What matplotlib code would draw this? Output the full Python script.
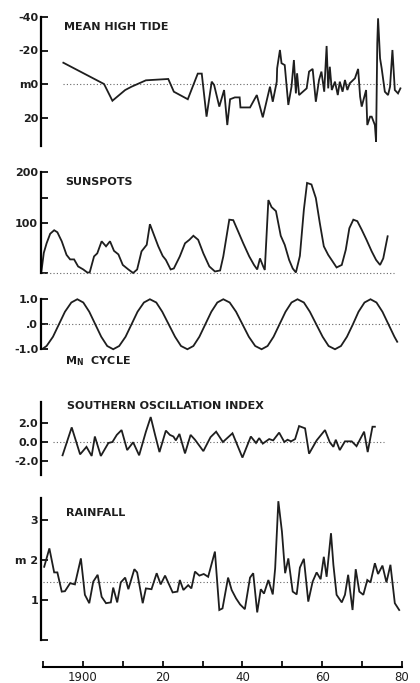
import numpy as np
import matplotlib.pyplot as plt

# ---- data ----
tide_year = [1895.1, 1905.3, 1907.4, 1910.6, 1912.2, 1915.8, 1921.4, 1922.8, 1926.3, 1928.8,
             1929.8, 1931.0, 1932.3, 1932.9, 1934.2, 1935.4, 1936.2, 1936.9, 1938.1, 1939.3,
             1939.5, 1940.2, 1941.9, 1943.6, 1945.1, 1946.9, 1947.6, 1948.6, 1948.7, 1949.4,
             1949.8, 1950.6, 1951.5, 1952.3, 1952.9, 1953.4, 1953.7, 1954.2, 1956.1, 1956.7,
             1957.6, 1958.4, 1959.2, 1959.8, 1960.5, 1961.1, 1961.5, 1961.9, 1962.4, 1963.2,
             1963.9, 1964.4, 1965.1, 1965.7, 1966.3, 1966.9, 1968.2, 1969.0, 1969.5, 1969.9,
             1971.0, 1971.3, 1972.0, 1972.4, 1973.2, 1973.5, 1973.8, 1974.0, 1974.5, 1974.9,
             1975.7, 1976.5, 1977.0, 1977.6, 1978.2, 1979.0, 1979.6]
tide_val = [-12.7, 0, 10, 3.6, 1.6, -2.2, -3, 4.6, 9.1, -6.2,
            -6.2, 19.5, -1.4, 0.6, 13.5, 3.6, 24.5, 9.1, 8, 8,
            14, 14, 14, 6.6, 19.9, 1.6, 10.6, -1.4, -9.4, -20.3,
            -12.4, -11.3, 12.5, 1.6, -14.3, 5.6, -6.4, 6.6, 2.6, -7.4,
            -9, 10.6, -2.4, -7.4, 4.6, -22.7, 2.6, -10.3, 3.6, -1.4,
            6.6, -1.4, 4.6, -2.4, 3.6, -0.4, -3.4, -9, 7.6, 13.5,
            3.6, 24.5, 19.5, 19.5, 24.5, 34.4, -24.3, -39.2, -15.3, -9.4,
            4.6, 6.6, 1.6, -20.3, 3.6, 5.6, 2.6]

sun_year = [1889.6, 1890.2, 1890.9, 1891.8, 1892.8, 1893.6, 1894.7, 1895.9, 1896.8, 1897.8, 1898.8,
            1900.1, 1901.1, 1901.7, 1902.8, 1903.6, 1904.7, 1905.8, 1906.8, 1907.8, 1908.9,
            1910.0, 1911.4, 1912.6, 1913.6, 1914.7, 1916.0, 1916.8, 1917.8, 1918.9, 1920.0,
            1920.8, 1922.0, 1922.8, 1924.3, 1925.6, 1926.7, 1927.7, 1928.9, 1930.2, 1931.7,
            1933.1, 1934.4, 1935.2, 1936.7, 1937.7, 1938.9, 1940.2, 1941.7, 1942.9, 1943.7,
            1944.4, 1945.2, 1945.6, 1946.5, 1947.3, 1948.4, 1949.6, 1950.6, 1951.7, 1952.6,
            1953.4, 1954.4, 1955.4, 1956.2, 1957.3, 1958.4, 1959.4, 1960.4, 1961.5, 1962.6,
            1963.6, 1964.9, 1965.9, 1966.8, 1967.8, 1968.8, 1969.9, 1971.1, 1972.4, 1973.5,
            1974.5, 1975.3, 1976.4]
sun_val = [3, 40, 59, 78, 85, 81, 63, 36, 27, 27, 13,
           7, 1, 1, 33, 39, 63, 53, 63, 44, 37,
           16, 7, 0, 7, 43, 56, 97, 76, 53, 34,
           26, 7, 9, 33, 59, 66, 74, 66, 39, 13,
           3, 5, 33, 106, 105, 83, 59, 33, 16, 7,
           29, 13, 6, 145, 131, 123, 74, 56, 26, 9,
           1, 34, 126, 179, 176, 149, 99, 53, 36, 23,
           11, 16, 46, 89, 106, 103, 86, 66, 43, 26,
           16, 29, 73]

mn_year = [1889.9, 1890.9, 1892.5, 1894.0, 1895.5, 1897.1, 1898.6, 1900.1, 1901.6, 1903.1,
           1904.6, 1906.1, 1907.6, 1909.1, 1910.7, 1912.2, 1913.7, 1915.3, 1916.8, 1918.4,
           1919.9, 1921.5, 1923.1, 1924.6, 1926.2, 1927.7, 1929.2, 1930.7, 1932.2, 1933.7,
           1935.2, 1936.8, 1938.4, 1940.0, 1941.6, 1943.2, 1944.8, 1946.3, 1947.8, 1949.3,
           1950.8, 1952.3, 1953.8, 1955.4, 1956.9, 1958.5, 1960.1, 1961.6, 1963.2, 1964.7,
           1966.2, 1967.7, 1969.1, 1970.6, 1972.1, 1973.6, 1975.1, 1976.6, 1978.1, 1978.8]
mn_val = [-0.98, -0.87, -0.5, 0, 0.5, 0.87, 1.0, 0.87, 0.5, 0,
          -0.5, -0.87, -1.0, -0.87, -0.5, 0, 0.5, 0.87, 1.0, 0.87,
          0.5, 0, -0.5, -0.87, -1.0, -0.87, -0.5, 0, 0.5, 0.87,
          1.0, 0.87, 0.5, 0, -0.5, -0.87, -1.0, -0.87, -0.5, 0,
          0.5, 0.87, 1.0, 0.87, 0.5, 0, -0.5, -0.87, -1.0, -0.87,
          -0.5, 0, 0.5, 0.87, 1.0, 0.87, 0.5, 0, -0.5, -0.7]

soi_year = [1894.9, 1897.2, 1899.3, 1900.9, 1902.2, 1903.0, 1904.5, 1906.4, 1907.4, 1908.5,
            1909.7, 1911.1, 1912.6, 1914.1, 1915.8, 1917.0, 1918.1, 1919.2, 1920.8, 1921.8,
            1922.7, 1923.3, 1924.2, 1925.6, 1927.0, 1928.1, 1930.2, 1932.0, 1933.4, 1935.1,
            1937.5, 1940.0, 1942.1, 1943.4, 1944.2, 1945.1, 1946.7, 1947.7, 1949.2, 1950.5,
            1951.3, 1952.2, 1953.2, 1954.2, 1955.7, 1956.7, 1958.6, 1960.7, 1961.9, 1962.8,
            1963.4, 1964.4, 1965.7, 1967.4, 1968.6, 1970.5, 1971.4, 1972.6, 1973.2]
soi_val = [-1.4, 1.54, -1.3, -0.51, -1.47, 0.58, -1.47, -0.1, 0, 0.75,
           1.26, -0.85, -0.03, -1.4, 1.09, 2.63, 0.75, -1.06, 1.2, 0.75,
           0.58, 0.17, 0.85, -1.2, 0.75, 0.24, -0.96, 0.51, 1.09, 0,
           0.92, -1.64, 0.58, -0.1, 0.41, -0.17, 0.31, 0.17, 0.99, 0,
           0.24, 0.07, 0.31, 1.68, 1.44, -1.23, 0.17, 1.26, -0.03, -0.51,
           0.24, -0.85, 0.07, 0.07, -0.44, 1.09, -1.06, 1.61, 1.61]

rain_year = [1890.3, 1891.6, 1892.8, 1893.6, 1894.7, 1895.5, 1896.8, 1898.0, 1899.5, 1900.5,
             1901.6, 1902.6, 1903.7, 1904.7, 1905.8, 1907.0, 1907.6, 1908.6, 1909.5, 1910.6,
             1911.4, 1912.9, 1913.6, 1915.0, 1915.8, 1917.2, 1918.5, 1919.5, 1920.6, 1922.5,
             1923.7, 1924.3, 1925.2, 1926.4, 1927.2, 1928.1, 1929.2, 1930.3, 1931.4, 1933.1,
             1934.2, 1935.0, 1936.4, 1937.3, 1938.4, 1939.4, 1940.6, 1941.9, 1942.7, 1943.7,
             1944.6, 1945.4, 1946.5, 1947.6, 1948.2, 1949.0, 1949.9, 1950.7, 1951.5, 1952.6,
             1953.6, 1954.4, 1955.4, 1956.5, 1957.6, 1958.6, 1959.6, 1960.4, 1961.1, 1962.2,
             1962.8, 1963.6, 1964.9, 1965.7, 1966.5, 1967.6, 1968.4, 1969.3, 1970.3, 1971.3,
             1972.1, 1973.2, 1974.0, 1975.1, 1976.1, 1977.1, 1978.2, 1979.3]
rain_val = [1.83, 2.29, 1.69, 1.69, 1.21, 1.22, 1.42, 1.39, 2.04, 1.13,
            0.92, 1.46, 1.63, 1.08, 0.92, 0.94, 1.31, 0.94, 1.44, 1.56,
            1.27, 1.77, 1.69, 0.92, 1.29, 1.27, 1.67, 1.39, 1.61, 1.19,
            1.21, 1.50, 1.25, 1.37, 1.29, 1.71, 1.61, 1.65, 1.58, 2.21,
            0.75, 0.79, 1.56, 1.25, 1.04, 0.89, 0.77, 1.56, 1.67, 0.69,
            1.27, 1.16, 1.50, 1.14, 1.79, 3.47, 2.71, 1.67, 2.04, 1.21,
            1.14, 1.81, 2.03, 0.96, 1.46, 1.69, 1.52, 2.08, 1.58, 2.67,
            1.88, 1.13, 0.94, 1.13, 1.63, 0.75, 1.77, 1.21, 1.13, 1.50,
            1.44, 1.92, 1.65, 1.86, 1.44, 1.88, 0.92, 0.75]
rain_mean = 1.45

decades = [1890, 1900, 1910, 1920, 1930, 1940, 1950, 1960, 1970, 1980]
decade_labels = ['', '1900', '', '20', '', '40', '', '60', '', '80']

W, H = 420, 683
fig = plt.figure(figsize=(W / 100, H / 100), dpi=100)
LINE = dict(color='#1e1e1e', lw=1.3, clip_on=False, solid_joinstyle='miter')
DOT = dict(color='#666666', lw=0.8, linestyle=(0, (1, 2)))


def panel(top, bottom):
    # axes placed in pixel coords, x from 1890 (px 43) to 1980 (px 402)
    ax = fig.add_axes([43 / W, 1 - bottom / H, (402 - 43) / W, (bottom - top) / H])
    ax.set_xlim(1890, 1980)
    ax.patch.set_alpha(0)
    for s in ['top', 'right', 'bottom']:
        ax.spines[s].set_visible(False)
    ax.spines['left'].set_position(('outward', 1.5))
    ax.spines['left'].set_linewidth(1.6)
    ax.set_xticks([])
    ax.tick_params(axis='y', direction='in', length=5, width=1.4, pad=2,
                   labelsize=8, colors='#1e1e1e')
    return ax


def title(x, y, s):
    fig.text(x / W, 1 - y / H, s, fontsize=8, fontweight='bold', va='center',
             ha='left', color='#1e1e1e')


# mean high tide
ax1 = panel(17, 151)
ax1.set_ylim(40, -40)
ax1.spines['left'].set_bounds(-40, 37)
ax1.set_yticks([-40, -20, 0, 20], ['-40', '-20', 'm0', '20'], fontweight='bold')
ax1.hlines(0, 1895, 1979, **DOT)
ax1.plot(tide_year, tide_val, **LINE)
title(64, 27.5, 'MEAN HIGH TIDE')

# sunspots
ax2 = panel(165, 276)
ax2.set_ylim(-6, 214.7)
ax2.spines['left'].set_bounds(0, 200)
ax2.set_yticks([0, 100, 150, 200], ['', '100', '', '200'], fontweight='bold')
ax2.hlines(0, 1890, 1978, **DOT)
ax2.plot(sun_year, sun_val, **LINE)
title(65, 182, 'SUNSPOTS')

# MN cycle
ax3 = panel(296, 352)
ax3.set_ylim(-1.11, 1.13)
ax3.spines['left'].set_bounds(-1, 1)
ax3.set_yticks([-1, 0, 1], ['-1.0', '.0', '1.0'], fontweight='bold')
ax3.hlines(0, 1890.5, 1979.5, **DOT)
ax3.plot(mn_year, mn_val, **LINE)
title(65, 361, r'M$_\mathregular{N}$  CYCLE')

# southern oscillation index
ax4 = panel(401, 476)
ax4.set_ylim(-3.58, 4.32)
ax4.spines['left'].set_bounds(-3.47, 4.24)
ax4.set_yticks([-2, 0, 2], ['-2.0', '0.0', '2.0'], fontweight='bold')
ax4.hlines(0, 1892.5, 1975.5, **DOT)
ax4.plot(soi_year, soi_val, **LINE)
title(67, 406, 'SOUTHERN OSCILLATION INDEX')

# rainfall
ax5 = panel(497, 641)
ax5.set_ylim(-0.025, 3.575)
ax5.spines['left'].set_bounds(0, 3.55)
ax5.set_yticks([0, 1, 2, 3], ['', '1', 'm 2', '3'], fontweight='bold')
ax5.hlines(rain_mean, 1890, 1979, **DOT)
ax5.plot(rain_year, rain_val, **LINE)
title(66, 513, 'RAINFALL')

# shared time axis at the bottom
axb = fig.add_axes([43 / W, 1 - 667 / H, (402 - 43) / W, 6 / H])
axb.set_xlim(1890, 1980)
axb.patch.set_alpha(0)
for s in ['top', 'right', 'left']:
    axb.spines[s].set_visible(False)
axb.spines['bottom'].set_linewidth(1.5)
axb.set_yticks([])
axb.set_xticks(decades, decade_labels)
axb.tick_params(axis='x', direction='in', length=4, width=1.4, pad=3,
                labelsize=8.5, colors='#1e1e1e')

fig.savefig('out.png', dpi=100)
